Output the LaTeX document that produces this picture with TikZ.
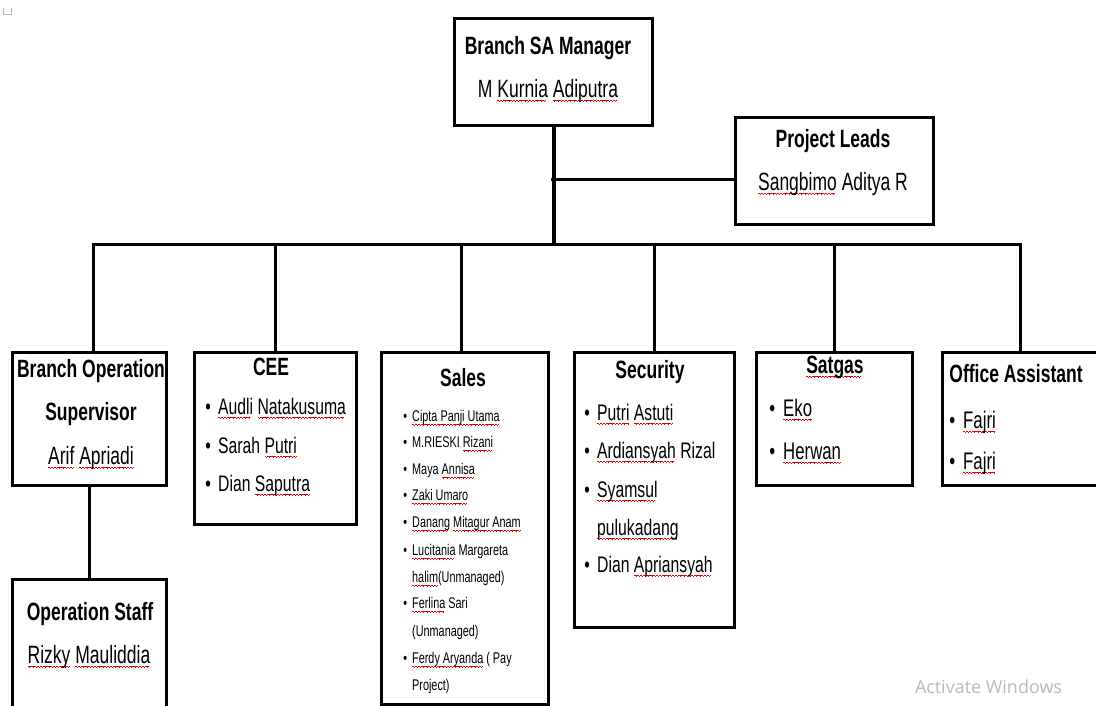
\documentclass[tikz,border=0pt]{standalone}
\usepackage{graphicx}
\usepackage{fontspec}
\setmainfont[FakeStretch=0.7]{Liberation Sans}
\newfontfamily\winfont{Open Sans}
\newsavebox\wavebx
\newsavebox\splbx
\newcommand\spl[1]{\sbox\splbx{#1}\rlap{\hbox to \wd\splbx{\leaders\copy\wavebx\hfill}}\usebox\splbx}
\newcommand\bul{\makebox[0pt][r]{\textbullet\hspace{0.33em}}}
\begin{document}
\sbox\wavebx{\color{red!90!black}\rule[-3.2pt]{0.8pt}{0.7pt}\rule[-3.8pt]{0.8pt}{0.7pt}\rule[-4.4pt]{0.8pt}{0.7pt}\rule[-3.8pt]{0.8pt}{0.7pt}}
\begin{tikzpicture}[x=1pt,y=-1pt,
  box/.style={draw=black,line width=3.2pt,inner sep=0pt,anchor=north west},
  conn/.style={line width=3pt,line cap=rect},
  txt/.style={inner sep=0pt,anchor=base},
  itm/.style={inner sep=0pt,anchor=base west},
  ttl/.style={font=\fontsize{25}{29}\selectfont\bfseries},
  nm/.style={font=\fontsize{25}{29}\selectfont},
  li/.style={font=\fontsize{22.5}{26}\selectfont},
  lis/.style={font=\fontsize{15.5}{18}\selectfont},
  lib/.style={font=\fontsize{24}{28}\selectfont}]
\useasboundingbox (0,0) rectangle (1096,705);
\clip (0,0) rectangle (1096,705);

% tiny mark top left
\draw[black!30,line width=1pt] (3,8) -- (3,14) -- (11,14) -- (11,8);

% boxes
\node[box,minimum width=198pt,minimum height=107pt] (mgr) at (453,17) {};
\node[box,minimum width=198pt,minimum height=107pt] (pl) at (734,116) {};
\node[box,minimum width=154pt,minimum height=133pt] (bos) at (11,351) {};
\node[box,minimum width=154pt,minimum height=140pt] (ops) at (11,578) {};
\node[box,minimum width=162pt,minimum height=172pt] (cee) at (193,351) {};
\node[box,minimum width=167pt,minimum height=352pt] (sales) at (380,351) {};
\node[box,minimum width=160pt,minimum height=275pt] (sec) at (573,351) {};
\node[box,minimum width=156pt,minimum height=133pt] (sat) at (755,351) {};
\node[box,minimum width=155pt,minimum height=133pt] (off) at (941,351) {};

% connectors
\coordinate (bus) at (552,244);
\coordinate (plj) at (552,179);
\draw[conn,line width=4pt] (mgr.south) -- (mgr.south |- bus);
\draw[conn] (plj) -- (plj -| pl.west);
\draw[conn] ([xshift=4pt]bos.north) |- (off.north |- bus) -- (off.north);
\draw[conn] (cee.north) -- (cee.north |- bus);
\draw[conn] ([xshift=-4pt]sales.north) -- ([xshift=-4pt]sales.north |- bus);
\draw[conn] (sec.north) -- (sec.north |- bus);
\draw[conn] (sat.north) -- (sat.north |- bus);
\draw[conn] (bos.south) -- (ops.north);

% manager
\node[txt,ttl] (t1) at (548,54) {Branch SA Manager};
\node[txt,nm] (n1) at (548,97) {M \spl{Kurnia} \spl{Adiputra}};
% project leads
\node[txt,ttl] (t2) at (833,147) {Project Leads};
\node[txt,nm] (n2) at (833,190) {\spl{Sangbimo} Aditya R};
% branch operation supervisor
\node[txt,ttl] (t3a) at (91,377) {Branch Operation};
\node[txt,ttl] (t3b) at (91,420) {Supervisor};
\node[txt,nm] (n3) at (91,464) {\spl{Arif} \spl{Apriadi}};
% operation staff
\node[txt,ttl] (t4) at (90,620) {Operation Staff};
\node[txt,nm] (n4) at (89,663) {\spl{Rizky} \spl{Mauliddia}};
% CEE
\node[txt,ttl] (t5) at (271,375) {CEE};
\node[itm,li] (c1) at (218,414) {\bul\spl{Audli} \spl{Natakusuma}};
\node[itm,li] (c2) at (218,453) {\bul Sarah \spl{Putri}};
\node[itm,li] (c3) at (218,491) {\bul Dian \spl{Saputra}};
% Sales
\node[txt,ttl] (t6) at (463,386) {Sales};
\node[itm,lis] (s1) at (412,421) {\bul\spl{Cipta Panji Utama}};
\node[itm,lis] (s2) at (412,447) {\bul M.RIESKI \spl{Rizani}};
\node[itm,lis] (s3) at (412,474) {\bul Maya \spl{Annisa}};
\node[itm,lis] (s4) at (412,500) {\bul\spl{Zaki Umaro}};
\node[itm,lis] (s5) at (412,527) {\bul\spl{Danang} \spl{Mitagur Anam}};
\node[itm,lis] (s6) at (412,555) {\bul\spl{Lucitania} Margareta};
\node[itm,lis] (s6b) at (412,582) {\spl{halim}(Unmanaged)};
\node[itm,lis] (s7) at (412,608) {\bul\spl{Ferlina} Sari};
\node[itm,lis] (s7b) at (412,636) {(Unmanaged)};
\node[itm,lis] (s8) at (412,663) {\bul\spl{Ferdy Aryanda} ( Pay};
\node[itm,lis] (s8b) at (412,690) {Project)};
% Security
\node[txt,ttl] (t7) at (650,378) {Security};
\node[itm,li] (e1) at (597,420) {\bul\spl{Putri} \spl{Astuti}};
\node[itm,li] (e2) at (597,458) {\bul\spl{Ardiansyah} Rizal};
\node[itm,li] (e3) at (597,497) {\bul\spl{Syamsul}};
\node[itm,li] (e3b) at (597,535) {\spl{pulukadang}};
\node[itm,li] (e4) at (597,572) {\bul Dian \spl{Apriansyah}};
% Satgas
\node[txt,ttl] (t8) at (835,373) {\spl{Satgas}};
\node[itm,lib] (g1) at (783,416) {\bul\spl{Eko}};
\node[itm,lib] (g2) at (783,459) {\bul\spl{Herwan}};
% Office Assistant
\node[txt,ttl] (t9) at (1016,382) {Office Assistant};
\node[itm,lib] (o1) at (963,428) {\bul\spl{Fajri}};
\node[itm,lib] (o2) at (963,469) {\bul\spl{Fajri}};

% watermark
\node[txt,text=black!28] (aw) at (988.5,693) {\resizebox{147pt}{!}{\winfont Activate Windows}};
\end{tikzpicture}
\end{document}
